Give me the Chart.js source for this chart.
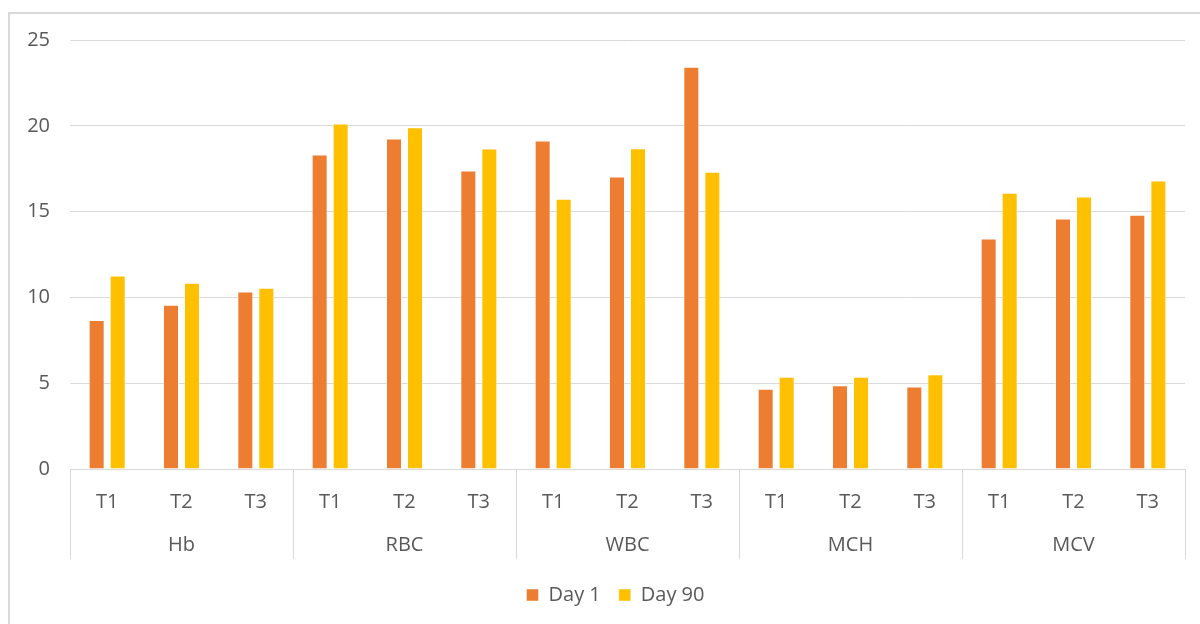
<!DOCTYPE html>
<html>
<head>
<meta charset="utf-8">
<title>Blood parameters</title>
<script src="https://cdn.jsdelivr.net/npm/chart.js@4/dist/chart.umd.min.js"></script>
<style>
    html, body { margin: 0; padding: 0; background: #fff; }
    #wrap { position: relative; width: 1200px; height: 624px; overflow: hidden; }
    #frame { position: absolute; left: 8px; top: 12px; width: 1300px; height: 700px; border: 2px solid #d9d9d9; }
    #chart { position: absolute; left: 0; top: 0; }
</style>
</head>
<body>
<div id="wrap">
    <div id="frame"></div>
    <canvas id="chart" width="1200" height="624"></canvas>
</div>
<script>
// 数据
const groups = ['Hb', 'RBC', 'WBC', 'MCH', 'MCV'];
const subLabels = ['T1', 'T2', 'T3'];
const day1 = [8.69, 9.57, 10.34, 18.33, 19.26, 17.40, 19.14, 17.05, 23.44, 4.67, 4.88, 4.81, 13.43, 14.60, 14.81];
const day90 = [11.28, 10.85, 10.56, 20.13, 19.92, 18.68, 15.75, 18.69, 17.32, 5.37, 5.37, 5.52, 16.10, 15.88, 16.81];
const yTicks = [0, 5, 10, 15, 20, 25];

const textColor = '#595959';
const lineColor = '#d9d9d9';

// 每个组下面都是 T1 T2 T3
const categories = [];
groups.forEach(() => subLabels.forEach(s => categories.push(s)));

Chart.defaults.font.family = '"Open Sans", "Noto Sans", sans-serif';
Chart.defaults.font.size = 20;
Chart.defaults.color = textColor;

// 画第二层的分组标签和分隔线
const groupAxisPlugin = {
    id: 'groupAxis',
    afterLayout(chart) {
        // 图例按绘图区居中，稍微往右挪一点
        chart.legend.left += 23;
        chart.legend.right += 23;
    },
    afterDraw(chart) {
        const ctx = chart.ctx;
        const x = chart.scales.x;
        const half = (x.getPixelForValue(1) - x.getPixelForValue(0)) / 2;
        const top = x.top;
        const bottom = x.top + 90;

        ctx.save();
        ctx.strokeStyle = lineColor;
        ctx.lineWidth = 1;
        for (let g = 0; g <= groups.length; g++) {
            const edge = g < groups.length
                ? x.getPixelForValue(g * subLabels.length) - half
                : x.getPixelForValue(categories.length - 1) + half;
            const px = Math.round(edge) + 0.5;
            ctx.beginPath();
            ctx.moveTo(px, top);
            ctx.lineTo(px, bottom);
            ctx.stroke();
        }

        ctx.fillStyle = textColor;
        ctx.font = Chart.helpers.toFont(Chart.defaults.font).string;
        ctx.textAlign = 'center';
        ctx.textBaseline = 'middle';
        groups.forEach((name, g) => {
            const mid = x.getPixelForValue(g * subLabels.length + 1);
            ctx.fillText(name, mid, top + 76);
        });
        ctx.restore();
    }
};

new Chart(document.getElementById('chart'), {
    type: 'bar',
    data: {
        labels: categories,
        datasets: [
            {
                label: 'Day 1',
                data: day1,
                backgroundColor: '#ed7d31',
                borderColor: 'rgba(255,255,255,0.45)',
                borderWidth: 1
            },
            {
                label: 'Day 90',
                data: day90,
                backgroundColor: '#ffc000',
                borderColor: 'rgba(255,255,255,0.45)',
                borderWidth: 1
            }
        ]
    },
    options: {
        responsive: false,
        animation: false,
        categoryPercentage: 0.5655,
        barPercentage: 0.762,
        layout: {
            padding: { top: 40, right: 15, bottom: 9, left: 0 }
        },
        plugins: {
            legend: {
                position: 'bottom',
                labels: {
                    boxWidth: 12,
                    boxHeight: 12,
                    padding: 18,
                    color: textColor,
                    font: { size: 20 }
                }
            },
            tooltip: { enabled: false }
        },
        scales: {
            x: {
                grid: { display: false, drawTicks: false },
                border: { display: true, color: lineColor, width: 1 },
                ticks: { padding: 21, color: textColor, maxRotation: 0 },
                afterFit(scale) { scale.height = 98; }
            },
            y: {
                min: 0,
                max: 25,
                afterBuildTicks(scale) { scale.ticks = yTicks.map(v => ({ value: v })); },
                grid: { color: lineColor, lineWidth: 1, drawTicks: false },
                border: { display: false },
                ticks: { padding: 20, color: textColor },
                afterFit(scale) { scale.width = 70; }
            }
        }
    },
    plugins: [groupAxisPlugin]
});
</script>
</body>
</html>
